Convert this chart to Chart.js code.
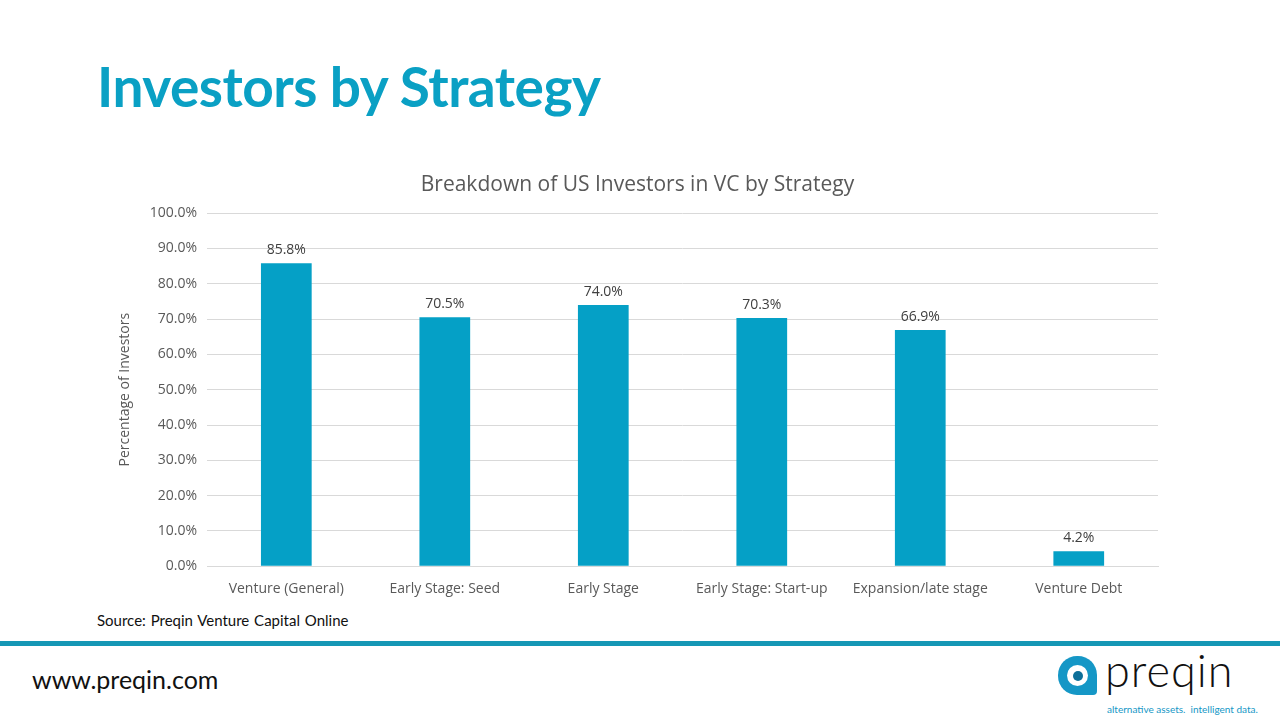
<!DOCTYPE html>
<html>
<head>
<meta charset="utf-8">
<script src="https://cdn.jsdelivr.net/npm/chart.js@4"></script>
<style>
  body { margin: 0; width: 1280px; height: 720px; background: #fff; position: relative; overflow: hidden; font-family: Lato, "Open Sans", sans-serif; }
  #title { position: absolute; left: 97px; top: 53px; font-size: 55px; font-weight: bold; color: #0aa0c4; letter-spacing: -0.5px; }
  #chartBox { position: absolute; left: 113px; top: 167px; width: 1062px; height: 436px; }
  #source { position: absolute; left: 97px; top: 611px; font-size: 15px; color: #111; word-spacing: 1px; }
  #rule { position: absolute; left: 0; top: 641px; width: 1280px; height: 5px; background: #1597b5; }
  #url { position: absolute; left: 32px; top: 664px; font-size: 25px; color: #111; }
  #logo { position: absolute; left: 1058px; top: 654px; width: 210px; height: 64px; }
  .icon { position: absolute; left: 0; top: 2px; width: 39px; height: 39px; background: #1597c6; border-radius: 19px 19px 4px 19px; }
  .icon .hole { position: absolute; left: 9px; top: 9px; width: 21px; height: 21px; background: #fff; border-radius: 50%; }
  .icon .dot { position: absolute; left: 15px; top: 15px; width: 10px; height: 10px; background: #0d6f99; border-radius: 50%; }
  .word { position: absolute; left: 47px; top: -11px; font-size: 45px; font-weight: 300; color: #111; letter-spacing: 1px; }
  .tag { position: absolute; left: 49px; top: 49px; font-size: 10px; color: #1597c6; white-space: nowrap; }
</style>
</head>
<body>
<div id="title">Investors by Strategy</div>
<div id="chartBox"><canvas id="chart"></canvas></div>
<div id="source">Source: Preqin Venture Capital Online</div>
<div id="rule"></div>
<div id="url">www.preqin.com</div>
<div id="logo">
  <div class="icon"><div class="hole"></div><div class="dot"></div></div>
  <div class="word">preqin</div>
  <div class="tag">alternative assets.&nbsp; intelligent data.</div>
</div>
<script>
const strategies = ['Venture (General)', 'Early Stage: Seed', 'Early Stage', 'Early Stage: Start-up', 'Expansion/late stage', 'Venture Debt'];
const investorShare = [85.8, 70.5, 74.0, 70.3, 66.9, 4.2];

const valueLabels = {
  id: 'valueLabels',
  afterDatasetsDraw(chart) {
    const ctx = chart.ctx;
    const meta = chart.getDatasetMeta(0);
    ctx.save();
    ctx.font = '14px "Open Sans", sans-serif';
    ctx.fillStyle = '#404040';
    ctx.textAlign = 'center';
    ctx.textBaseline = 'bottom';
    meta.data.forEach((bar, i) => {
      ctx.fillText(investorShare[i].toFixed(1) + '%', bar.x, bar.y - 6);
    });
    ctx.restore();
  }
};

new Chart(document.getElementById('chart'), {
  type: 'bar',
  data: {
    labels: strategies,
    datasets: [{
      data: investorShare,
      backgroundColor: '#05a0c6',
      barPercentage: 0.32,
      categoryPercentage: 1
    }]
  },
  options: {
    responsive: true,
    maintainAspectRatio: false,
    animation: false,
    layout: { padding: { top: 0, right: 17, bottom: 0, left: 4 } },
    plugins: {
      legend: { display: false },
      tooltip: { enabled: false },
      title: {
        display: true,
        text: 'Breakdown of US Investors in VC by Strategy',
        color: '#595959',
        font: { family: '"Open Sans", sans-serif', size: 21, weight: 'normal' },
        padding: { top: 5, bottom: 16 }
      }
    },
    scales: {
      x: {
        grid: { display: false },
        border: { color: '#d9d9d9' },
        ticks: { color: '#595959', font: { family: '"Open Sans", sans-serif', size: 14 }, padding: 6 }
      },
      y: {
        min: 0,
        max: 100,
        ticks: {
          stepSize: 10,
          color: '#595959',
          font: { family: '"Open Sans", sans-serif', size: 14 },
          padding: 10,
          callback: v => v.toFixed(1) + '%'
        },
        grid: { color: '#d9d9d9', drawTicks: false },
        border: { display: false },
        title: {
          display: true,
          text: 'Percentage of Investors',
          color: '#595959',
          font: { family: '"Open Sans", sans-serif', size: 14 },
          padding: { top: 0, bottom: 6 }
        }
      }
    }
  },
  plugins: [valueLabels]
});
</script>
</body>
</html>
